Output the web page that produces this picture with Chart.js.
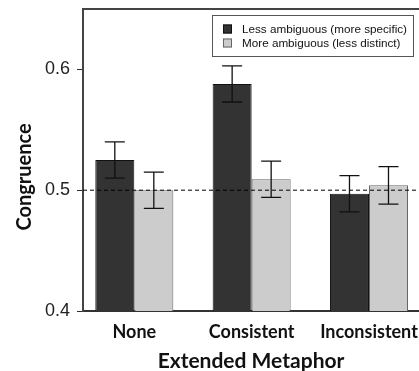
<!DOCTYPE html>
<html>
<head>
<meta charset="utf-8">
<script src="https://cdn.jsdelivr.net/npm/chart.js@4"></script>
<style>
  html, body { margin: 0; padding: 0; background: #fff; overflow: hidden; }
  #wrap { width: 419px; height: 371px; }
</style>
</head>
<body>
<div id="wrap"><canvas id="myChart" width="419" height="371"></canvas></div>
<script>
// data
var categories = ["None", "Consistent", "Inconsistent"];
var seriesNames = ["Less ambiguous (more specific)", "More ambiguous (less distinct)"];
var lessAmbiguous = [0.525, 0.588, 0.497];
var moreAmbiguous = [0.500, 0.509, 0.504];
var lessErr = [0.015, 0.015, 0.015];
var moreErr = [0.015, 0.015, 0.0155];
var yTicks = [0.4, 0.5, 0.6];
var chanceLevel = 0.5;
var yTitle = "Congruence";

var catPos = categories.map(function(c, i){ return i + 1; });

function toPoints(vals){
  return vals.map(function(v, i){ return {x: catPos[i], y: v}; });
}

// error bars
var errorBars = {
  id: 'errorBars',
  afterDatasetsDraw: function(chart){
    var ctx = chart.ctx;
    var y = chart.scales.y;
    var errs = [lessErr, moreErr];
    var vals = [lessAmbiguous, moreAmbiguous];
    ctx.save();
    ctx.strokeStyle = '#111';
    ctx.lineWidth = 1.3;
    for (var d = 0; d < 2; d++){
      var meta = chart.getDatasetMeta(d);
      meta.data.forEach(function(bar, i){
        var top = y.getPixelForValue(vals[d][i] + errs[d][i]);
        var bot = y.getPixelForValue(vals[d][i] - errs[d][i]);
        var x = bar.x;
        ctx.beginPath();
        ctx.moveTo(x, top); ctx.lineTo(x, bot);
        ctx.moveTo(x - 10, top); ctx.lineTo(x + 10, top);
        ctx.moveTo(x - 10, bot); ctx.lineTo(x + 10, bot);
        ctx.stroke();
      });
    }
    ctx.restore();
  }
};

// dashed chance line + top frame line
var refLine = {
  id: 'refLine',
  afterDatasetsDraw: function(chart){
    var ctx = chart.ctx;
    var a = chart.chartArea;
    var py = chart.scales.y.getPixelForValue(chanceLevel);
    ctx.save();
    ctx.strokeStyle = '#000';
    ctx.lineWidth = 1;
    ctx.setLineDash([4, 3]);
    ctx.beginPath();
    ctx.moveTo(a.left, py); ctx.lineTo(a.right, py);
    ctx.stroke();
    ctx.setLineDash([]);
    ctx.strokeStyle = '#444';
    ctx.lineWidth = 2;
    ctx.beginPath();
    ctx.moveTo(a.left - 1, a.top); ctx.lineTo(a.right, a.top);
    ctx.stroke();
    ctx.restore();
  }
};

// y title sits a bit below the middle in the original
var sideTitle = {
  id: 'sideTitle',
  afterDraw: function(chart){
    var ctx = chart.ctx;
    ctx.save();
    ctx.translate(25, 177);
    ctx.rotate(-Math.PI / 2);
    ctx.font = 'bold 20px Lato';
    ctx.fillStyle = '#111';
    ctx.textAlign = 'center';
    ctx.textBaseline = 'middle';
    ctx.fillText(yTitle, 0, 0);
    ctx.restore();
  }
};

// legend box inside the plot
var boxLegend = {
  id: 'boxLegend',
  afterDraw: function(chart){
    var ctx = chart.ctx;
    var bx = 212.5, by = 15.5, bw = 201, bh = 41;
    ctx.save();
    ctx.fillStyle = '#fff';
    ctx.fillRect(bx, by, bw, bh);
    ctx.strokeStyle = '#555';
    ctx.lineWidth = 1;
    ctx.strokeRect(bx, by, bw, bh);
    ctx.font = '11.7px "Liberation Sans", Arial, sans-serif';
    ctx.textBaseline = 'middle';
    chart.data.datasets.forEach(function(ds, i){
      var yy = 29 + i * 14;
      ctx.fillStyle = ds.backgroundColor;
      ctx.fillRect(223, yy - 4.5, 9, 9);
      ctx.strokeStyle = ds.borderColor;
      ctx.strokeRect(223.5, yy - 4, 8, 8);
      ctx.fillStyle = '#111';
      ctx.fillText(ds.label, 242, yy + 0.5);
    });
    ctx.restore();
  }
};

var ctx = document.getElementById('myChart');
var myChart = new Chart(ctx, {
  type: 'bar',
  data: {
    datasets: [{
      label: seriesNames[0],
      data: toPoints(lessAmbiguous),
      backgroundColor: '#333333',
      borderColor: '#111111',
      borderWidth: 1
    }, {
      label: seriesNames[1],
      data: toPoints(moreAmbiguous),
      backgroundColor: '#cccccc',
      borderColor: '#666666',
      borderWidth: 1
    }]
  },
  options: {
    responsive: false,
    animation: false,
    layout: { padding: { top: 9, right: 0, left: 0, bottom: 0 } },
    datasets: { bar: { categoryPercentage: 0.665, barPercentage: 1, grouped: true } },
    plugins: {
      legend: { display: false },
      tooltip: { enabled: false }
    },
    scales: {
      x: {
        type: 'linear',
        offset: false,
        min: 1 - 51.3 / 117.3,
        max: 3 + 50 / 117.3,
        afterBuildTicks: function(scale){
          scale.ticks = catPos.map(function(v){ return {value: v}; });
        },
        afterFit: function(scale){
          scale.height = 60;
          scale.paddingLeft = 0;
          scale.paddingRight = 0;
        },
        grid: { display: false, drawTicks: false, offset: false },
        border: { display: true, color: '#333', width: 2 },
        ticks: {
          padding: 10,
          color: '#111',
          font: { family: 'Lato', weight: 'bold', size: 18 },
          callback: function(v){ return categories[v - 1] || ''; }
        },
        title: {
          display: true,
          text: 'Extended Metaphor',
          color: '#111',
          font: { family: 'Lato', weight: 'bold', size: 21, lineHeight: 1 },
          padding: { top: 0, bottom: -1 }
        }
      },
      y: {
        min: 0.4,
        max: 0.65,
        afterBuildTicks: function(scale){
          scale.ticks = yTicks.map(function(v){ return {value: v}; });
        },
        afterFit: function(scale){
          scale.width = 83;
          scale.paddingTop = 0;
          scale.paddingBottom = 0;
        },
        grid: { drawOnChartArea: false, drawTicks: true, tickLength: 6, color: '#333', lineWidth: 1 },
        border: { display: true, color: '#444', width: 2 },
        ticks: {
          padding: 7,
          color: '#222',
          font: { family: '"Liberation Sans", Arial, sans-serif', size: 18 },
          callback: function(v){ return v.toFixed(1); }
        },
        title: { display: false }
      }
    }
  },
  plugins: [refLine, errorBars, boxLegend, sideTitle]
});
</script>
</body>
</html>
